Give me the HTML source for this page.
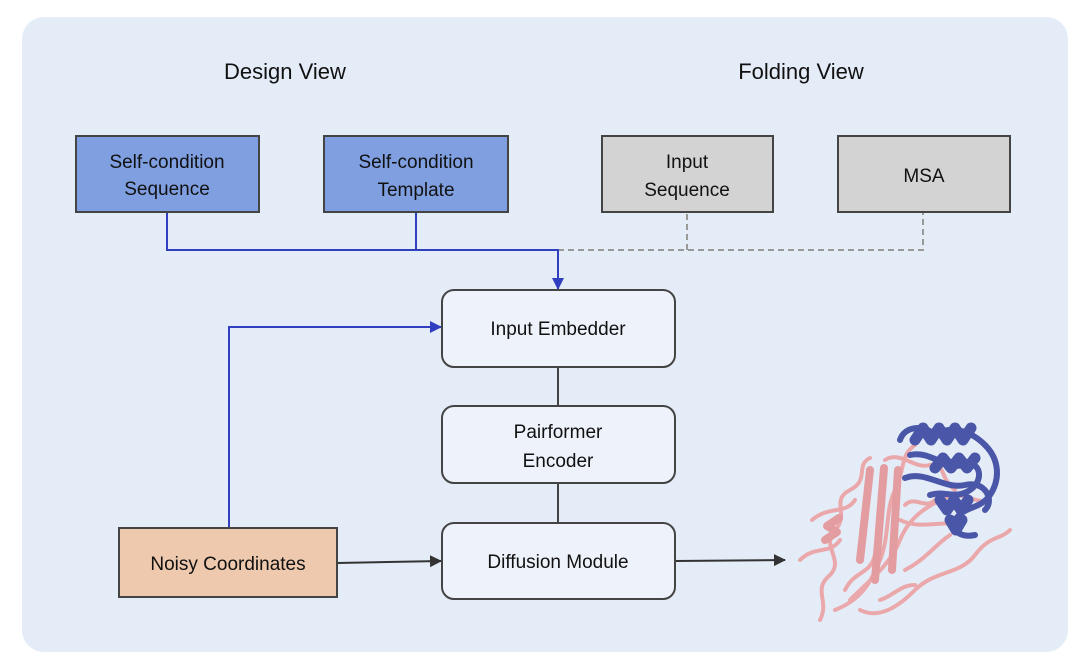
<!DOCTYPE html>
<html><head><meta charset="utf-8"><style>
html,body{margin:0;padding:0;background:#fff;}
svg{display:block;}
text{font-family:"Liberation Sans",sans-serif;fill:#111;}
</style></head><body>
<svg width="1080" height="668" viewBox="0 0 1080 668" xmlns="http://www.w3.org/2000/svg">
<defs>
<marker id="ab" markerWidth="12" markerHeight="12" refX="11" refY="6" orient="auto" markerUnits="userSpaceOnUse"><path d="M0,0 L12,6 L0,12 z" fill="#2f3fc0"/></marker>
<marker id="ak" markerWidth="12" markerHeight="12" refX="11" refY="6" orient="auto" markerUnits="userSpaceOnUse"><path d="M0,0 L12,6 L0,12 z" fill="#333"/></marker>
</defs>
<rect x="22" y="17" width="1046" height="635" rx="22" fill="#e4ecf7"/>
<text x="285" y="79" font-size="22" text-anchor="middle">Design View</text>
<text x="801" y="79" font-size="22" text-anchor="middle">Folding View</text>

<g fill="none" stroke-width="2">
<path d="M558,250 H923 V212 M687,250 V212" stroke="#999" stroke-dasharray="6,4"/>
<path d="M167,212 V250 H558 V289" stroke="#2f3fc0" marker-end="url(#ab)"/>
<path d="M416,212 V250" stroke="#2f3fc0"/>
<path d="M229,528 V327 H441" stroke="#2f3fc0" marker-end="url(#ab)"/>
<path d="M558,367 V406 M558,483 V523" stroke="#444"/>
<path d="M337,563 L441,561" stroke="#333" marker-end="url(#ak)"/>
<path d="M675,561 L785,560" stroke="#333" marker-end="url(#ak)"/>
</g>

<g stroke="#444" stroke-width="2">
<rect x="76" y="136" width="183" height="76" fill="#7f9fe0"/>
<rect x="324" y="136" width="184" height="76" fill="#7f9fe0"/>
<rect x="602" y="136" width="171" height="76" fill="#d3d3d3"/>
<rect x="838" y="136" width="172" height="76" fill="#d3d3d3"/>
<rect x="442" y="290" width="233" height="77" rx="12" fill="#eef3fb"/>
<rect x="442" y="406" width="233" height="77" rx="12" fill="#eef3fb"/>
<rect x="442" y="523" width="233" height="76" rx="12" fill="#eef3fb"/>
<rect x="119" y="528" width="218" height="69" fill="#eec9ae"/>
</g>
<g font-size="19" text-anchor="middle">
<text x="167" y="168">Self-condition</text><text x="167" y="195">Sequence</text>
<text x="416" y="168">Self-condition</text><text x="416" y="196">Template</text>
<text x="687" y="168">Input</text><text x="687" y="196">Sequence</text>
<text x="924" y="182">MSA</text>
<text x="558" y="335">Input Embedder</text>
<text x="558" y="438">Pairformer</text><text x="558" y="467">Encoder</text>
<text x="558" y="568">Diffusion Module</text>
<text x="228" y="570">Noisy Coordinates</text>
</g>

<g fill="none" stroke-linecap="round" stroke-linejoin="round">
<g stroke="#eaa8ab" stroke-width="4">
<path d="M820,620 C830,600 812,590 830,575 C845,560 820,545 835,530 C850,515 830,500 850,490 C870,480 855,465 870,458"/>
<path d="M835,610 C860,600 870,585 880,560 C890,535 885,510 895,490 C905,470 900,455 915,445"/>
<path d="M850,600 C870,580 890,565 900,540 C910,515 930,505 945,498 C965,490 975,505 990,500"/>
<path d="M812,520 C830,505 845,515 855,500 M800,560 C815,545 830,555 840,540"/>
<path d="M860,610 C880,620 900,605 915,590 C935,570 960,575 975,555 C990,535 1000,540 1010,530"/>
<path d="M885,460 C900,450 915,470 930,465 C945,460 940,480 955,490 M900,520 C920,530 940,520 960,525"/>
<path d="M845,590 C855,570 870,575 875,555 M905,570 C925,560 935,545 950,535"/>
<path d="M905,505 C915,495 925,510 935,500 M880,600 C895,595 900,585 915,585"/>
</g>
<g stroke="#e39ca0" stroke-width="8">
<path d="M870,470 L860,560 M884,468 L875,580 M898,470 L892,570"/>
<path d="M825,540 l12,-8 l-10,-6 l12,-8"/>
</g>
<g stroke="#4a56a8" stroke-width="6">
<path d="M900,440 C905,425 925,425 935,435 C950,425 970,430 985,445 C1000,460 1000,480 990,495 C980,510 965,505 955,520 C950,530 960,538 975,535"/>
<path d="M910,455 C930,450 945,470 965,465 C980,460 985,480 970,490 C955,500 945,490 930,495"/>
<path d="M905,478 C925,470 945,490 965,485 C985,480 995,500 985,510"/>
</g>
<g stroke="#4a56a8" stroke-width="11">
<path d="M915,440 l8,-12 l8,12 l8,-12 l8,12 l8,-12 l8,12 l8,-12"/>
<path d="M935,468 l8,-10 l8,10 l8,-10 l8,10 l8,-10"/>
<path d="M940,500 l7,10 l7,-10 l7,10 l7,-10"/>
<path d="M950,520 l6,10 l6,-10"/>
</g>
</g>
</svg>
</body></html>
